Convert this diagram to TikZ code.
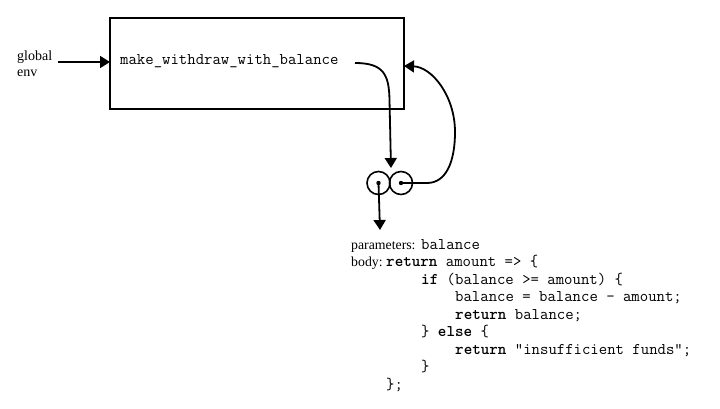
\documentclass[tikz,border=0pt]{standalone}
\usepackage{fontspec}
\setmainfont{Liberation Serif}
\usetikzlibrary{arrows.meta}
\begin{document}
\begin{tikzpicture}[x=1pt,y=-1pt,
  thick line/.style={line width=1.8pt},
  arr/.style={thick line, -{Triangle[length=10pt,width=12pt]}},
  code/.style={anchor=base west, inner sep=0pt, font=\fontsize{16.3}{18}\selectfont\ttfamily},
  lbl/.style={anchor=base west, inner sep=0pt, font=\fontsize{13.8}{16}\selectfont\rmfamily},
  cell/.style={circle, draw, line width=1.6pt, minimum size=23pt, inner sep=0pt},
  frame/.style={draw, line width=1.8pt, inner sep=0pt, minimum width=294pt, minimum height=91pt}]
\useasboundingbox (0,0) rectangle (720,409);

% frame
\node[frame] (frame) at (257,63.5) {};
\node[code] (title) at (120,65) {make\_withdraw\_with\_balance};

% global env label
\node[lbl, align=left, anchor=west, font=\fontsize{14}{16}\selectfont\rmfamily] (genv) at (17,64) {global\\env};
\coordinate (gstart) at (58,62);
\coordinate (gend) at (110,62);
\draw[arr] (gstart) -- (gend);

% function object
\node[cell] (cl) at (378.5,183) {};
\node[cell] (cr) at (401,183) {};
\fill (cl.center) circle (2.2);
\fill (cr.center) circle (2.2);

\coordinate (tstart) at (355,63);
\coordinate (ptop) at (391,168);
\draw[arr] (tstart) .. controls (384,63) and (389,75) .. (389.5,100) -- (ptop);

\coordinate (fin) at (404,66);
\draw[arr] (cr.center) -- (427,183) .. controls (446,183) and (455,162) .. (455,132)
  .. controls (455,96) and (432,67) .. (fin);

\coordinate (pbot) at (380,230);
\draw[arr] (cl.center) -- (pbot);

% code text
\node[lbl] (p1) at (351,249) {parameters:};
\node[code] (p2) at (421,249) {balance};
\node[lbl] (b1) at (351,266.5) {body:};
\node[code] (b2) at (386,266.5) {\textbf{return} amount => \{};
\node[code] (l3) at (421,284) {\textbf{if} (balance >= amount) \{};
\node[code] (l4) at (455,301.5) {balance = balance - amount;};
\node[code] (l5) at (455,319) {\textbf{return} balance;};
\node[code] (l6) at (421,336.5) {\} \textbf{else} \{};
\node[code] (l7) at (455,354) {\textbf{return} "insufficient funds";};
\node[code] (l8) at (421,371.5) {\}};
\node[code] (l9) at (386,389) {\};};
\end{tikzpicture}
\end{document}
